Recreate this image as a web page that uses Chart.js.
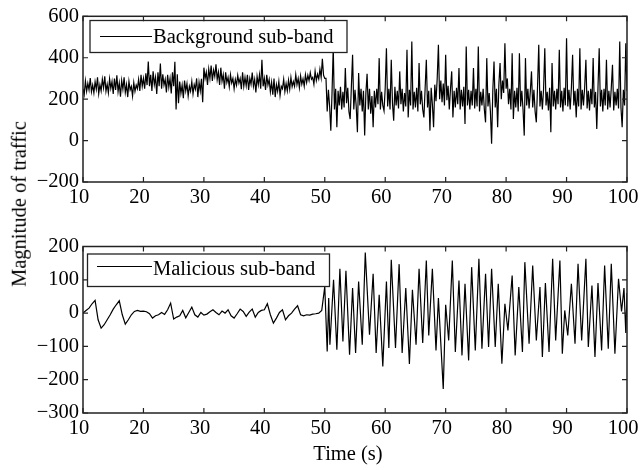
<!DOCTYPE html>
<html>
<head>
<meta charset="utf-8">
<title>Traffic sub-bands</title>
<script src="https://cdn.jsdelivr.net/npm/chart.js@4.4.0/dist/chart.umd.min.js"></script>
<style>
  html, body { margin: 0; padding: 0; background: #fff; }
  #figure {
    position: relative;
    width: 641px;
    height: 470px;
    overflow: hidden;
    font-family: "Liberation Serif", serif;
  }
  #figure canvas { position: absolute; left: 0; }
  #top-chart { top: 0; width: 641px; height: 230px; }
  #bottom-chart { top: 230px; width: 641px; height: 240px; }
  .axis-title { position: absolute; font-size: 20.5px; color: #000; white-space: nowrap; line-height: 1; }
  #y-title { left: 19px; top: 204px; transform: translate(-50%, -50%) rotate(-90deg); }
  #x-title { left: 348px; top: 453px; transform: translate(-50%, -50%); }
</style>
</head>
<body>
<div id="figure">
  <canvas id="top-chart" width="641" height="230"></canvas>
  <canvas id="bottom-chart" width="641" height="240"></canvas>
  <div class="axis-title" id="y-title">Magnitude of traffic</div>
  <div class="axis-title" id="x-title">Time (s)</div>
</div>
<script>
// Shared time axis
const timeTicks = [10, 20, 30, 40, 50, 60, 70, 80, 90, 100];

// Background sub-band, sampled every 0.2 s
const bgEarlyStart = 10;
const bgEarlyStep = 0.2;
const bgEarly = [
  250, 222, 288, 238, 276,
  245, 302, 236, 268, 230,
  284, 248, 305, 226, 270,
  240, 296, 255, 310, 238,
  272, 230, 298, 252, 285,
  225, 300, 244, 315, 236,
  278, 212, 290, 248, 305,
  232, 270, 210, 286, 245,
  262, 215, 280, 238, 268,
  250, 295, 240, 318, 262,
  300, 250, 325, 268, 382,
  262, 318, 240, 335, 270,
  305, 225, 330, 262, 372,
  250, 320, 268, 296, 232,
  318, 258, 300, 228, 330,
  262, 380, 150, 320, 180,
  285, 228, 268, 205, 290,
  240, 275, 215, 262, 238,
  285, 225, 270, 248, 300,
  210, 282, 240, 298, 185,
  352, 300, 330, 268, 345,
  300, 362, 288, 340, 310,
  368, 295, 330, 268, 352,
  286, 318, 250, 330, 280,
  305, 260, 318, 278, 300,
  250, 296, 268, 315, 278,
  300, 248, 330, 262, 305,
  265, 318, 245, 300, 272,
  328, 262, 296, 232, 310,
  270, 318, 250, 390, 262,
  300, 245, 318, 268, 295,
  235, 282, 222, 300, 210,
  270, 238, 285, 218, 262,
  250, 296, 236, 275, 240,
  292, 248, 305, 260, 285,
  262, 318, 270, 300, 255,
  312, 272, 298, 262, 318,
  280, 315, 290, 328, 296,
  305, 272, 335, 290, 320,
  298, 345, 305, 395, 315,
  300
];

const bgLateStart = 50.2;
const bgLateStep = 0.2;
const bgLate = [
  300, 140, 245, 165, 48,
  230, 450, 150, 250, 64,
  240, 170, 260, 150, 235,
  160, 350, 180, 255, 140,
  104, 260, 414, 150, 245,
  165, 40, 326, 170, 250,
  140, 240, 24, 230, 322,
  150, 250, 130, 215, 64,
  240, 160, 250, 175, 398,
  150, 235, 170, 144, 255,
  446, 165, 250, 150, 390,
  180, 96, 260, 170, 240,
  155, 334, 175, 250, 140,
  230, 165, 438, 112, 245,
  170, 478, 150, 235, 160,
  255, 140, 374, 175, 240,
  150, 112, 250, 390, 160,
  240, 48, 255, 175, 64,
  270, 190, 300, 462, 200,
  290, 185, 275, 170, 414,
  195, 265, 150, 250, 334,
  112, 240, 160, 255, 175,
  350, 150, 245, 165, 260,
  80, 454, 170, 245, 150,
  240, 170, 350, 155, 250,
  165, 454, 140, 235, 170,
  250, 150, 88, 398, 165,
  230, 140, -15, 240, 382,
  160, 250, 64, 270, 374,
  200, 290, 230, 470, 250,
  300, 175, 250, 150, 422,
  104, 240, 160, 255, 140,
  422, 165, 240, 150, 24,
  398, 170, 250, 155, 235,
  334, 160, 245, 140, 88,
  260, 462, 165, 240, 150,
  250, 446, 170, 235, 145,
  255, 40, 374, 165, 240,
  150, 250, 175, 438, 160,
  240, 140, 255, 170, 494,
  165, 245, 150, 255, 414,
  170, 240, 112, 250, 165,
  446, 150, 245, 170, 260,
  390, 155, 240, 145, 250,
  175, 398, 160, 235, 56,
  255, 446, 165, 245, 140,
  250, 170, 390, 150, 240,
  160, 255, 366, 145, 235,
  170, 250, 155, 478, 160,
  64, 245, 170, 470, 240
];

// Malicious sub-band before the attack, sampled every 0.5 s
const malEarlyStart = 10;
const malEarlyStep = 0.5;
const malEarly = [
  0, 8, 15, 28, 38, -20, -45, -35, -20, -5,
  12, 25, 37, -5, -33, -20, -5, 5, 8, 5,
  6, 4, -2, -15, -8, -5, 2, -4, 10, 30,
  -18, -12, -8, 8, -14, 2, 18, -5, -12, 2,
  -6, -3, 4, 10, 2, -5, 6, 0, 10, -8,
  -15, -2, 12, 5, -10, 3, 12, -12, 2, 8,
  10, 28, -5, -30, -15, 2, 10, -20, -8, 0,
  12, 22, -5, -8, -5, -6, -3, -2, 0, 8,
  80
];

// Malicious sub-band during the attack: peak / trough times and values
const malLateTime = [
  50.4, 50.65, 50.85, 51.45, 52.0, 52.5, 53.0, 53.5, 54.1, 54.6,
  55.1, 55.6, 56.2, 56.7, 57.4, 58.0, 58.5, 59.0, 59.6, 60.2,
  60.6, 61.0, 61.7, 62.3, 62.8, 63.4, 64.0, 64.5, 65.1, 65.6,
  66.2, 66.8, 67.2, 67.8, 68.4, 68.8, 69.6, 70.0, 70.5, 71.1,
  71.6, 72.2, 72.7, 73.2, 73.8, 74.3, 74.9, 75.5, 76.0, 76.6,
  77.1, 77.6, 78.2, 78.7, 79.3, 79.8, 80.3, 81.0, 81.5, 82.1,
  82.7, 83.1, 83.8, 84.4, 85.0, 85.6, 86.0, 86.5, 87.1, 87.7,
  88.2, 88.9, 89.3, 89.7, 90.2, 90.8, 91.4, 91.9, 92.5, 93.2,
  93.6, 94.2, 94.7, 95.2, 95.8, 96.3, 96.9, 97.4, 98.0, 98.6,
  99.1, 99.5, 99.8, 100.0
];
const malLateValue = [
  -115, 45, -95, 100, -110, 133, -85, 127, -125, 75,
  -120, 95, -95, 182, -65, 118, -120, 55, -160, 95,
  -105, 160, -105, 147, -120, 75, -153, 70, -95, 133,
  -90, 158, -67, 133, -112, 45, -228, 25, -82, 158,
  -117, 98, -127, 88, -142, 138, -112, 163, -107, 118,
  -102, 133, -102, 88, -152, 28, -52, 113, -127, 78,
  -117, 153, -92, 143, -82, 78, -132, 90, -117, 163,
  -82, 158, -122, 8, -67, 88, -92, 148, -82, 163,
  -102, 83, -132, 90, -112, 143, -107, 148, -122, 103,
  5, 75, -60, 60
];

const topYTicks = [-200, 0, 200, 400, 600];
const bottomYTicks = [-300, -200, -100, 0, 100, 200];

const FONT_FAMILY = '"Liberation Serif", serif';
const FONT = { family: FONT_FAMILY, size: 20.5 };
const FRAME_COLOR = '#222';
const TICK_LEN = 5;

function sampled(values, start, step) {
  return values.map((v, i) => ({ x: +(start + i * step).toFixed(2), y: v }));
}

function paired(times, values) {
  return times.map((t, i) => ({ x: t, y: values[i] }));
}

// Use a true minus sign like the original typesetting
function formatTick(value) {
  return value < 0 ? '\u2212' + Math.abs(value) : String(value);
}

/**
 * Draws the box, inward tick marks and the boxed legend
 */
const framePlugin = {
  id: 'frame',
  afterDatasetsDraw(chart, args, opts) {
    const { ctx, chartArea: a, scales } = chart;
    ctx.save();

    // Legend box sits on top of the trace
    const lg = opts.legend;
    ctx.fillStyle = '#fff';
    ctx.fillRect(lg.x, lg.y, lg.w, lg.h);
    ctx.strokeStyle = FRAME_COLOR;
    ctx.lineWidth = 1.3;
    ctx.strokeRect(lg.x, lg.y, lg.w, lg.h);
    ctx.strokeStyle = '#000';
    ctx.lineWidth = 1;
    ctx.beginPath();
    ctx.moveTo(lg.lineX0, lg.lineY);
    ctx.lineTo(lg.lineX1, lg.lineY);
    ctx.stroke();
    ctx.fillStyle = '#000';
    ctx.font = FONT.size + 'px ' + FONT_FAMILY;
    ctx.textAlign = 'left';
    ctx.textBaseline = 'alphabetic';
    ctx.fillText(lg.text, lg.textX, lg.textY);

    // Axes box
    ctx.strokeStyle = FRAME_COLOR;
    ctx.lineWidth = 1.5;
    ctx.strokeRect(a.left, a.top, a.right - a.left, a.bottom - a.top);

    // Inward ticks on all four sides
    ctx.lineWidth = 1.2;
    ctx.beginPath();
    scales.x.ticks.forEach(t => {
      const px = scales.x.getPixelForValue(t.value);
      ctx.moveTo(px, a.bottom);
      ctx.lineTo(px, a.bottom - TICK_LEN);
      ctx.moveTo(px, a.top);
      ctx.lineTo(px, a.top + TICK_LEN);
    });
    scales.y.ticks.forEach(t => {
      const py = scales.y.getPixelForValue(t.value);
      ctx.moveTo(a.left, py);
      ctx.lineTo(a.left + TICK_LEN, py);
      ctx.moveTo(a.right, py);
      ctx.lineTo(a.right - TICK_LEN, py);
    });
    ctx.stroke();
    ctx.restore();
  }
};

function makeChart(canvasId, points, cfg) {
  const canvas = document.getElementById(canvasId);
  return new Chart(canvas.getContext('2d'), {
    type: 'line',
    data: {
      datasets: [{
        label: cfg.legend.text,
        data: points,
        borderColor: '#000',
        borderWidth: 1.2,
        pointRadius: 0,
        tension: 0,
        fill: false
      }]
    },
    options: {
      responsive: false,
      animation: false,
      events: [],
      layout: { padding: { top: cfg.padTop, right: 14, left: 0, bottom: 0 } },
      plugins: {
        legend: { display: false },
        tooltip: { enabled: false },
        frame: { legend: cfg.legend }
      },
      scales: {
        x: {
          type: 'linear',
          min: 10,
          max: 100,
          grid: { display: false, drawTicks: false },
          border: { display: false },
          afterBuildTicks(scale) {
            scale.ticks = timeTicks.map(v => ({ value: v }));
          },
          ticks: {
            color: '#000',
            font: FONT,
            padding: 3,
            labelOffset: -4,
            maxRotation: 0,
            autoSkip: false
          },
          afterFit(scale) {
            scale.height = cfg.xHeight;
            scale.paddingLeft = 0;
            scale.paddingRight = 0;
          }
        },
        y: {
          min: cfg.yTicks[0],
          max: cfg.yTicks[cfg.yTicks.length - 1],
          grid: { display: false, drawTicks: false },
          border: { display: false },
          afterBuildTicks(scale) {
            scale.ticks = cfg.yTicks.map(v => ({ value: v }));
          },
          ticks: {
            color: '#000',
            font: FONT,
            padding: 4,
            callback: formatTick
          },
          afterFit(scale) {
            scale.width = 83;
          }
        }
      }
    },
    plugins: [framePlugin]
  });
}

function drawCharts() {
  makeChart('top-chart',
    sampled(bgEarly, bgEarlyStart, bgEarlyStep).concat(sampled(bgLate, bgLateStart, bgLateStep)),
    {
      yTicks: topYTicks,
      padTop: 14,
      xHeight: 48,
      legend: {
        text: 'Background sub-band',
        x: 90, y: 20.5, w: 257, h: 32,
        lineX0: 100, lineX1: 152, lineY: 36.5,
        textX: 153, textY: 43
      }
    });

  makeChart('bottom-chart',
    sampled(malEarly, malEarlyStart, malEarlyStep).concat(paired(malLateTime, malLateValue)),
    {
      yTicks: bottomYTicks,
      padTop: 16.5,
      xHeight: 57,
      legend: {
        text: 'Malicious sub-band',
        x: 87.5, y: 24, w: 242, h: 32.5,
        lineX0: 97, lineX1: 152, lineY: 36.5,
        textX: 153, textY: 45
      }
    });
}

// Make sure the serif face is ready before the canvases get their text
if (document.fonts && document.fonts.load) {
  document.fonts.load('20px "Liberation Serif"').then(drawCharts, drawCharts);
} else {
  drawCharts();
}
</script>
</body>
</html>
